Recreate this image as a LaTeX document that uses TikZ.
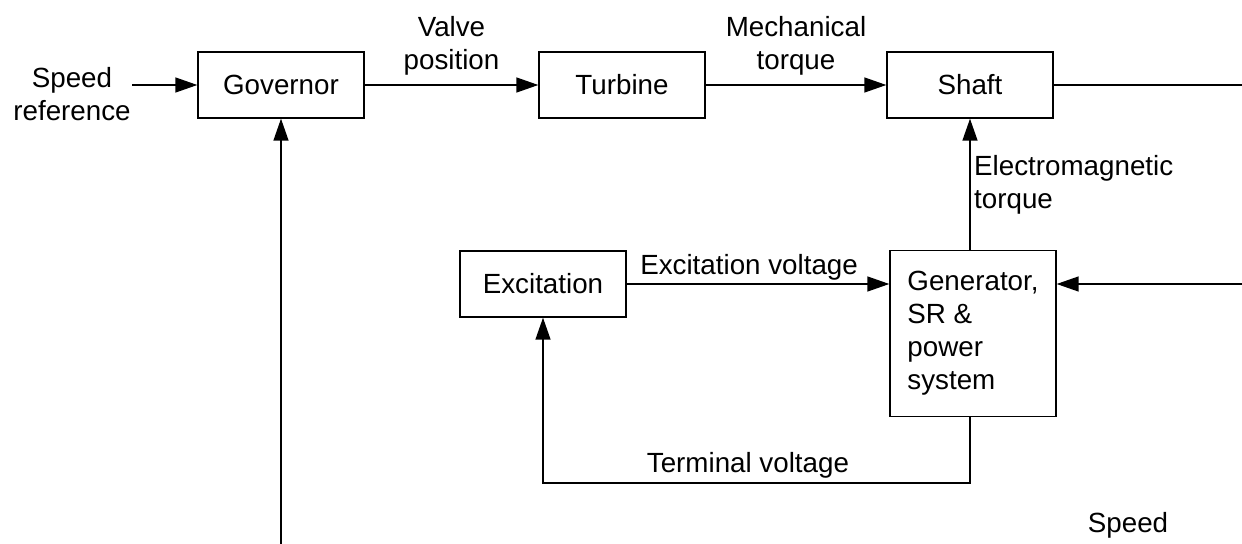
\documentclass[tikz,border=0pt]{standalone}
\usepackage{fontspec}
\setmainfont{Liberation Sans}
\usepackage{tikz}
\usetikzlibrary{arrows.meta,positioning,calc}

\begin{document}
\begin{tikzpicture}[x=0.02cm,y=-0.02cm,>={Triangle[length=4.4mm,width=3mm]},line width=0.8pt,
  font=\fontsize{15.8}{18.8}\selectfont,
  blk/.style={draw,minimum width=3.32cm,minimum height=1.32cm,inner sep=0pt},
  lbl/.style={align=center,inner sep=2pt}]
  \useasboundingbox (0,0) rectangle (1242,544);
  \node[blk] (gov) at (281,85) {Governor};
  \node[blk] (turb) at (622,85) {Turbine};
  \node[blk] (shaft) at (970,85) {Shaft};
  \node[blk] (exc) at (543,284) {Excitation};
  \node[blk,minimum height=3.31cm,align=left] (gen) at (973,333.5) {Generator,\\SR \&\\power\\system};
  \node[lbl] (spdref) at (72,94) {Speed\\reference};
  \node[lbl] (spd) at (1128,525) {Speed};
  \coordinate (spdin) at (132,85);
  \coordinate (rtop) at (1242,85);
  \coordinate (rmid) at (1242,284);
  \coordinate (spdbot) at (281,544);
  \draw[->] (spdin) -- (gov);
  \draw[->] (gov) -- node[lbl,above=3pt]{Valve\\position} (turb);
  \draw[->] (turb) -- node[lbl,above=3pt]{Mechanical\\torque} (shaft);
  \draw (shaft) -- (rtop);
  \draw[->] (gen.north -| shaft) -- node[lbl,right,align=left]{Electromagnetic\\torque} (shaft.south);
  \draw[->] (exc) -- node[lbl,above,pos=0.466]{Excitation voltage} (gen.west |- exc);
  \draw[->] (rmid) -- (gen.east |- rmid);
  \draw[->] (gen.south -| shaft) -- ++(0,66) -| node[lbl,above,pos=0.26]{Terminal voltage} (exc.south);
  \draw[->] (spdbot) -- (gov.south);
\end{tikzpicture}
\end{document}
